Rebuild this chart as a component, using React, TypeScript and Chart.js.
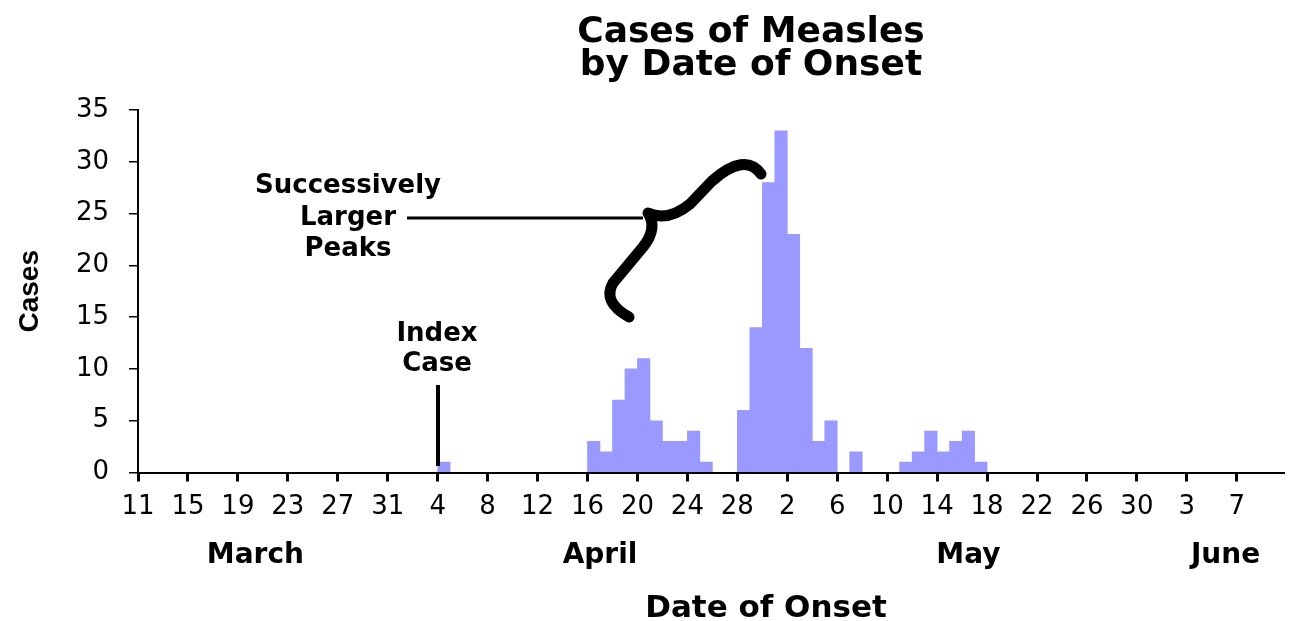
import React, { useEffect, useRef } from "react";
import { Chart, registerables } from "chart.js";

Chart.register(...registerables);

// ---- data ----
const axisStartDate = "03-11"; // March 11 = day 0 of the x axis
const onsetDates = [
  "04-04",
  "04-16", "04-17", "04-18", "04-19", "04-20", "04-21", "04-22", "04-23", "04-24", "04-25",
  "04-28", "04-29", "04-30", "05-01", "05-02", "05-03", "05-04", "05-05", "05-07",
  "05-11", "05-12", "05-13", "05-14", "05-15", "05-16", "05-17",
];
const caseCounts = [
  1,
  3, 2, 7, 10, 11, 5, 3, 3, 4, 1,
  6, 14, 28, 33, 23, 12, 3, 5, 2,
  1, 2, 4, 2, 3, 4, 1,
];
const dayTickValues = [0, 4, 8, 12, 16, 20, 24, 28, 32, 36, 40, 44, 48, 52, 56, 60, 64, 68, 72, 76, 80, 84, 88];
const dayTickLabels = ["11", "15", "19", "23", "27", "31", "4", "8", "12", "16", "20", "24", "28", "2", "6", "10", "14", "18", "22", "26", "30", "3", "7"];
const monthLabels = ["March", "April", "May", "June"];
const monthLabelDays = [9.4, 37, 66.5, 87.1];
const axisMaxDay = 91.7;
const yMax = 35;
const yStep = 5;

const titleLines = ["Cases of Measles", "by Date of Onset"];
const xAxisTitle = "Date of Onset";
const yAxisTitle = "Cases";
const peakNote = ["Successively", "Larger", "Peaks"];
const indexNote = ["Index", "Case"];

const BAR_COLOR = "#9999ff";
const FONT = "DejaVu Sans";

function dayOffset(md: string): number {
  const [m, d] = md.split("-").map(Number);
  const [m0, d0] = axisStartDate.split("-").map(Number);
  return Math.round((Date.UTC(2001, m - 1, d) - Date.UTC(2001, m0 - 1, d0)) / 86400000);
}

const annotationPlugin = {
  id: "measlesAnnotations",
  afterDraw(chart: any) {
    const ctx = chart.ctx as CanvasRenderingContext2D;
    ctx.save();
    ctx.fillStyle = "#000";
    ctx.strokeStyle = "#000";
    ctx.textAlign = "center";

    // title
    ctx.font = `bold 36px "${FONT}"`;
    ctx.textBaseline = "alphabetic";
    ctx.fillText(titleLines[0], 751, 42);
    ctx.fillText(titleLines[1], 751, 75);

    // x axis title
    ctx.font = `bold 31px "${FONT}"`;
    ctx.fillText(xAxisTitle, 766, 617);

    // notes
    ctx.font = `bold 26px "${FONT}"`;
    ctx.textBaseline = "middle";
    const peakY = [186, 218, 249];
    peakNote.forEach((t, i) => ctx.fillText(t, 348, peakY[i]));
    const indexY = [334, 364];
    indexNote.forEach((t, i) => ctx.fillText(t, 437, indexY[i]));

    // index case pointer
    ctx.lineWidth = 4;
    ctx.lineCap = "butt";
    ctx.beginPath();
    ctx.moveTo(438, 385);
    ctx.lineTo(438, 466);
    ctx.stroke();

    // callout line
    ctx.lineWidth = 3;
    ctx.beginPath();
    ctx.moveTo(407, 218);
    ctx.lineTo(643, 218);
    ctx.stroke();

    // curly brace
    ctx.lineWidth = 11;
    ctx.lineCap = "round";
    ctx.lineJoin = "round";
    ctx.beginPath();
    ctx.moveTo(629, 317);
    ctx.quadraticCurveTo(602, 302, 613, 283);
    ctx.lineTo(643, 247);
    ctx.quadraticCurveTo(658, 228, 648, 213);
    ctx.quadraticCurveTo(668, 222, 690, 204);
    ctx.lineTo(712, 181);
    ctx.quadraticCurveTo(745, 152, 761, 174);
    ctx.stroke();

    ctx.restore();
  },
};

export default function App() {
  const canvasRef = useRef<HTMLCanvasElement | null>(null);

  useEffect(() => {
    if (!canvasRef.current) return;
    const points = onsetDates.map((d, i) => ({ x: dayOffset(d) + 0.5, y: caseCounts[i] }));

    const chart = new Chart(canvasRef.current, {
      type: "bar",
      data: {
        datasets: [
          {
            data: points as any,
            backgroundColor: BAR_COLOR,
            borderWidth: 0,
            barPercentage: 1,
            categoryPercentage: 1,
            xAxisID: "x",
            yAxisID: "y",
          },
        ],
      },
      options: {
        animation: false,
        responsive: false,
        events: [],
        layout: { padding: { top: 110, right: 6, left: 0, bottom: 0 } },
        plugins: {
          legend: { display: false },
          tooltip: { enabled: false },
          title: { display: false },
        },
        scales: {
          x: {
            type: "linear",
            axis: "x",
            position: "bottom",
            weight: 0,
            offset: false,
            min: 0,
            max: axisMaxDay,
            afterBuildTicks: (s: any) => {
              s.ticks = dayTickValues.map((v) => ({ value: v }));
            },
            afterFit: (s: any) => {
              s.height = 60;
            },
            ticks: {
              autoSkip: false,
              maxRotation: 0,
              minRotation: 0,
              padding: 10,
              color: "#000",
              font: { family: FONT, size: 26 },
              callback: (_v: any, i: number) => dayTickLabels[i],
            },
            grid: { offset: false, drawOnChartArea: false, drawTicks: true, tickLength: 9, color: "#000", lineWidth: 3 },
            border: { display: true, color: "#000", width: 2 },
          },
          month: {
            type: "linear",
            axis: "x",
            position: "bottom",
            weight: 1,
            offset: false,
            min: 0,
            max: axisMaxDay,
            afterBuildTicks: (s: any) => {
              s.ticks = monthLabelDays.map((v) => ({ value: v }));
            },
            afterFit: (s: any) => {
              s.height = 88.5;
            },
            ticks: {
              autoSkip: false,
              maxRotation: 0,
              minRotation: 0,
              padding: 6,
              color: "#000",
              font: { family: FONT, size: 28, weight: "bold" },
              callback: (_v: any, i: number) => monthLabels[i],
            },
            grid: { offset: false, display: false, drawTicks: false },
            border: { display: false },
          },
          y: {
            type: "linear",
            position: "left",
            min: 0,
            max: yMax,
            afterFit: (s: any) => {
              s.width = 138;
            },
            ticks: {
              stepSize: yStep,
              padding: 20,
              color: "#000",
              font: { family: FONT, size: 26 },
            },
            grid: { drawOnChartArea: false, drawTicks: true, tickLength: 9, color: "#000", lineWidth: 1.5 },
            border: { display: true, color: "#000", width: 2 },
            title: {
              display: true,
              text: yAxisTitle,
              color: "#000",
              font: { family: "Liberation Sans", size: 28, weight: "bold" },
              padding: { top: 13, bottom: 0 },
            },
          },
        } as any,
      },
      plugins: [annotationPlugin],
    });

    return () => chart.destroy();
  }, []);

  return (
    <div style={{ position: "absolute", left: 0, top: 0, width: 1289, height: 621, background: "#fff" }}>
      <canvas ref={canvasRef} width={1289} height={621} style={{ display: "block" }} />
    </div>
  );
}
